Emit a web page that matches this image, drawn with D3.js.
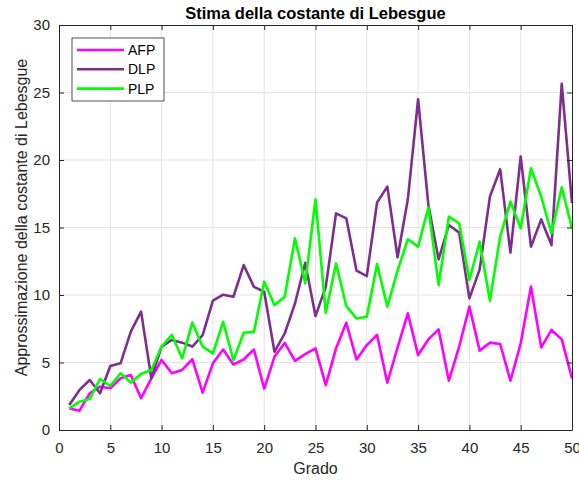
<!DOCTYPE html>
<html>
<head>
<meta charset="utf-8">
<script src="https://cdn.jsdelivr.net/npm/d3@7"></script>
<style>
  body { margin: 0; background: #fff; }
  text { font-family: "Liberation Sans", Arial, sans-serif; }
</style>
</head>
<body>
<div id="chart"></div>
<script>
/* DATA */
const degrees = d3.range(1, 51);
const afp = [1.6, 1.43, 2.72, 3.21, 3.09, 3.83, 4.08, 2.35, 3.83, 5.19,
  4.2, 4.45, 5.24, 2.77, 4.94, 5.96, 4.85, 5.22, 5.96, 3.07,
  5.42, 6.46, 5.12, 5.62, 6.04, 3.32, 6.04, 7.94, 5.22, 6.29,
  7.04, 3.5, 6.12, 8.64, 5.55, 6.71, 7.45, 3.65, 6.17, 9.14,
  5.88, 6.47, 6.37, 3.65, 6.42, 10.62, 6.12, 7.41, 6.71, 3.82];
const dlp = [1.85, 2.97, 3.7, 2.72, 4.74, 4.94, 7.29, 8.77, 3.83, 6.18,
  6.67, 6.47, 6.18, 7.02, 9.58, 10.02, 9.87, 12.22, 10.6, 10.24,
  5.79, 7.15, 9.37, 12.39, 8.44, 10.6, 16.05, 15.68, 11.8, 11.4,
  16.85, 18.03, 12.79, 17.09, 24.5, 16.67, 12.64, 15.19, 14.62, 9.75,
  11.9, 17.29, 19.32, 13.14, 20.26, 13.58, 15.6, 13.7, 25.64, 16.8];
const plp = [1.6, 2.1, 2.3, 3.78, 3.26, 4.2, 3.51, 4.15, 4.45, 6.18,
  7.04, 5.31, 7.95, 6.17, 5.67, 8.02, 5.17, 7.2, 7.27, 10.98,
  9.25, 9.87, 14.19, 10.86, 17.08, 8.68, 12.34, 9.18, 8.26, 8.39,
  12.3, 9.14, 11.8, 14.13, 13.58, 16.48, 10.74, 15.8, 15.31, 11.11,
  13.95, 9.58, 14.33, 16.92, 14.94, 19.39, 17.29, 14.57, 17.98, 14.94];
const seriesNames = ["AFP", "DLP", "PLP"];
const seriesColors = ["#ff00ff", "#7e2f8e", "#00ff00"];
const xTicks = d3.range(0, 51, 5);
const yTicks = d3.range(0, 31, 5);

const width = 579, height = 481;
const margin = { top: 25, right: 7, bottom: 51, left: 59 };
const axisColor = "#262626";

const series = [afp, dlp, plp].map((vals, i) => ({
  name: seriesNames[i],
  color: seriesColors[i],
  values: vals.map((v, j) => ({ x: degrees[j], y: v }))
}));

const svg = d3.select("#chart").append("svg")
  .attr("width", width)
  .attr("height", height);

const xScale = d3.scaleLinear().domain([0, 50]).range([margin.left, width - margin.right]);
const yScale = d3.scaleLinear().domain([0, 30]).range([height - margin.bottom, margin.top]);

const x0 = xScale.range()[0], x1 = xScale.range()[1];
const y0 = yScale.range()[0], y1 = yScale.range()[1];

// grid
svg.append("g").selectAll("line.vg")
  .data(xTicks.slice(1, -1))
  .join("line")
  .attr("x1", d => xScale(d)).attr("x2", d => xScale(d))
  .attr("y1", y1).attr("y2", y0)
  .attr("stroke", "#e3e3e3").attr("stroke-width", 1);
svg.append("g").selectAll("line.hg")
  .data(yTicks.slice(1, -1))
  .join("line")
  .attr("x1", x0).attr("x2", x1)
  .attr("y1", d => yScale(d)).attr("y2", d => yScale(d))
  .attr("stroke", "#e3e3e3").attr("stroke-width", 1);

// lines
const line = d3.line().x(d => xScale(d.x)).y(d => yScale(d.y));
svg.append("g").selectAll("path")
  .data(series)
  .join("path")
  .attr("fill", "none")
  .attr("stroke", d => d.color)
  .attr("stroke-width", 2.6)
  .attr("stroke-linejoin", "round")
  .attr("d", d => line(d.values));

// axes (ticks inside, box with top/right ticks)
const xAxis = svg.append("g")
  .attr("transform", `translate(0,${y0})`)
  .call(d3.axisBottom(xScale).tickValues(xTicks).tickSizeInner(-5).tickSizeOuter(0).tickPadding(12));
const xAxisTop = svg.append("g")
  .attr("transform", `translate(0,${y1})`)
  .call(d3.axisTop(xScale).tickValues(xTicks).tickSizeInner(-5).tickSizeOuter(0).tickFormat(""));
const yAxis = svg.append("g")
  .attr("transform", `translate(${x0},0)`)
  .call(d3.axisLeft(yScale).tickValues(yTicks).tickSizeInner(-5).tickSizeOuter(0).tickPadding(9));
const yAxisRight = svg.append("g")
  .attr("transform", `translate(${x1},0)`)
  .call(d3.axisRight(yScale).tickValues(yTicks).tickSizeInner(-5).tickSizeOuter(0).tickFormat(""));

[xAxis, xAxisTop, yAxis, yAxisRight].forEach(g => {
  g.select(".domain").attr("stroke", axisColor).attr("stroke-width", 1);
  g.selectAll(".tick line").attr("stroke", axisColor);
  g.selectAll(".tick text")
    .attr("fill", axisColor)
    .attr("font-size", 15)
    .attr("font-family", "Liberation Sans, Arial, sans-serif");
});

// title and labels
svg.append("text")
  .attr("x", (x0 + x1) / 2).attr("y", 19)
  .attr("text-anchor", "middle")
  .attr("font-size", 16.5).attr("font-weight", "bold")
  .attr("fill", "#000")
  .text("Stima della costante di Lebesgue");

svg.append("text")
  .attr("x", (x0 + x1) / 2).attr("y", 474)
  .attr("text-anchor", "middle")
  .attr("font-size", 16)
  .attr("fill", axisColor)
  .text("Grado");

svg.append("text")
  .attr("transform", `translate(27,${(y0 + y1) / 2 - 10}) rotate(-90)`)
  .attr("text-anchor", "middle")
  .attr("font-size", 16)
  .attr("fill", axisColor)
  .text("Approssimazione della costante di Lebesgue");

// legend
const legend = svg.append("g").attr("transform", "translate(72,38)");
legend.append("rect")
  .attr("width", 92).attr("height", 63)
  .attr("fill", "#fff")
  .attr("stroke", axisColor).attr("stroke-width", 0.8);
const items = legend.selectAll("g.item")
  .data(series)
  .join("g")
  .attr("transform", (d, i) => `translate(0,${12 + i * 19.3})`);
items.append("line")
  .attr("x1", 5).attr("x2", 52)
  .attr("stroke", d => d.color)
  .attr("stroke-width", 2.6);
items.append("text")
  .attr("x", 56).attr("y", 5)
  .attr("font-size", 14)
  .attr("fill", "#000")
  .text(d => d.name);
</script>
</body>
</html>
